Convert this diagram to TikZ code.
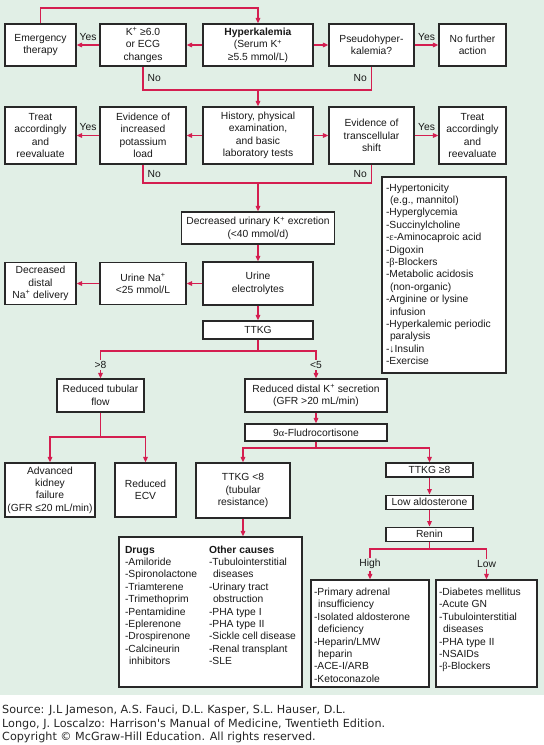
\documentclass[tikz,border=0pt]{standalone}
\usepackage{fontspec}
\setmainfont{Liberation Sans}
\newfontfamily\srcfont{DejaVu Sans}
\newfontfamily\grk{Liberation Serif}
\usetikzlibrary{arrows.meta,positioning}

\definecolor{bggreen}{RGB}{225,239,230}
\definecolor{linered}{RGB}{212,30,80}
\definecolor{boxgray}{RGB}{40,40,40}
\newcommand{\fs}{\fontsize{10.3}{12.4}\selectfont}
\newcommand{\Kp}{K\textsuperscript{+}}
\newcommand{\Nap}{Na\textsuperscript{+}}
% fixed-size box with the list starting at the top
\newcommand{\toplist}[4]{\parbox[c][#1][t]{#2}{\raggedright\rule{0pt}{#3}#4}}

\begin{document}
\begin{tikzpicture}[x=1pt, y=-1pt,
  pbox/.style={draw=boxgray, line width=1.1pt, fill=white, align=center,
               inner sep=1pt, font=\fs, text=black!90},
  lbox/.style={pbox, inner ysep=0pt, inner xsep=3pt},
  arrow/.style={draw=linered, line width=1.4pt, -{Triangle[length=5.5pt,width=4.5pt]}},
  link/.style={draw=linered, line width=1.4pt},
  lab/.style={font=\fs, inner sep=1pt, text=black!90},
  cut/.style={lab, inner sep=1.5pt, fill=bggreen}
]
\fill[bggreen] (0,0) rectangle (544,695);
\useasboundingbox (0,0) rectangle (544,745);

% first row
\node[pbox, minimum width=110pt, minimum height=42pt] (hyper) at (258,45)
  {\textbf{Hyperkalemia}\\(Serum \Kp\\≥5.5 mmol/L)};
\node[pbox, minimum width=86pt, minimum height=42pt] (kcheck) at (143,45)
  {\Kp{} ≥6.0\\or ECG\\changes};
\node[pbox, minimum width=71pt, minimum height=42pt] (emerg) at (40.5,45)
  {Emergency\\therapy};
\node[pbox, minimum width=85pt, minimum height=42pt] (pseudo) at (371.5,45)
  {Pseudohyper-\\kalemia?};
\node[pbox, minimum width=67pt, minimum height=42pt] (nofurther) at (472.5,45)
  {No further\\action};

% second row
\node[pbox, minimum width=110pt, minimum height=57pt] (history) at (258,135.5)
  {History, physical\\examination,\\and basic\\laboratory tests};
\node[pbox, minimum width=86pt, minimum height=57pt] (evload) at (143,135.5)
  {Evidence of\\increased\\potassium\\load};
\node[pbox, minimum width=71pt, minimum height=57pt] (treatl) at (40.5,135.5)
  {Treat\\accordingly\\and\\reevaluate};
\node[pbox, minimum width=85pt, minimum height=57pt] (evshift) at (371.5,135.5)
  {Evidence of\\transcellular\\shift};
\node[pbox, minimum width=67pt, minimum height=57pt] (treatr) at (472.5,135.5)
  {Treat\\accordingly\\and\\reevaluate};

\node[lbox, inner xsep=4pt] (shiftlist) at (444,275)
  {\toplist{196pt}{116pt}{14pt}{-Hypertonicity\\
   \hspace*{4pt}(e.g., mannitol)\\
   -Hyperglycemia\\
   -Succinylcholine\\
   -{\grk ε}-Aminocaproic acid\\
   -Digoxin\\
   -{\grk β}-Blockers\\
   -Metabolic acidosis\\
   \hspace*{4pt}(non-organic)\\
   -Arginine or lysine\\
   \hspace*{4pt}infusion\\
   -Hyperkalemic periodic\\
   \hspace*{4pt}paralysis\\
   -↓Insulin\\
   -Exercise}};

% urinary work-up
\node[pbox, minimum width=153pt, minimum height=32pt] (decr) at (258,228)
  {Decreased urinary \Kp{} excretion\\(<40 mmol/d)};
\node[pbox, minimum width=110pt, minimum height=43pt] (urine) at (258,283.5)
  {Urine\\electrolytes};
\node[pbox, minimum width=86pt, minimum height=42pt] (urinena) at (143,283.5)
  {Urine \Nap\\<25 mmol/L};
\node[pbox, minimum width=71pt, minimum height=42pt] (distal) at (40.5,283.5)
  {Decreased\\distal\\\Nap{} delivery};
\node[pbox, minimum width=110pt, minimum height=18pt] (ttkg) at (258,330) {TTKG};

% TTKG branches
\node[pbox, minimum width=87pt, minimum height=33pt] (tubflow) at (100.5,395.5)
  {Reduced tubular\\flow};
\node[pbox, minimum width=142pt, minimum height=33pt] (redsec) at (316,395.5)
  {Reduced distal \Kp{} secretion\\(GFR >20 mL/min)};
\node[pbox, minimum width=142pt, minimum height=17pt] (fludro) at (316,432.5)
  {9{\grk α}-Fludrocortisone};
\node[pbox, minimum width=90pt, minimum height=54pt] (akf) at (50,490)
  {Advanced\\kidney\\failure\\(GFR ≤20 mL/min)};
\node[pbox, minimum width=61pt, minimum height=54pt] (ecv) at (145.5,490)
  {Reduced\\ECV};
\node[pbox, minimum width=94pt, minimum height=55pt] (ttkglow) at (243,490.5)
  {TTKG <8\\(tubular\\resistance)};
\node[pbox, minimum width=87pt, minimum height=14pt] (ttkghigh) at (429.5,470)
  {TTKG ≥8};
\node[pbox, minimum width=87pt, minimum height=14pt, below=17pt of ttkghigh] (lowaldo)
  {Low aldosterone};
\node[pbox, minimum width=87pt, minimum height=14pt, below=17pt of lowaldo] (renin)
  {Renin};

% cause lists
\node[lbox, inner xsep=6pt] (drugs) at (210.5,612)
  {\toplist{150pt}{171pt}{16pt}{%
   \parbox[t]{84pt}{\raggedright\textbf{Drugs}\\-Amiloride\\-Spironolactone\\
     -Triamterene\\-Trimethoprim\\-Pentamidine\\-Eplerenone\\-Drospirenone\\
     -Calcineurin\\\hspace*{4pt}inhibitors}%
   \parbox[t]{87pt}{\raggedright\textbf{Other causes}\\-Tubulointerstitial\\
     \hspace*{4pt}diseases\\-Urinary tract\\\hspace*{4pt}obstruction\\-PHA type I\\
     -PHA type II\\-Sickle cell disease\\-Renal transplant\\-SLE}}};
\node[lbox] (high) at (370,633.5)
  {\toplist{107pt}{112pt}{15.4pt}{-Primary adrenal\\
   \hspace*{4pt}insufficiency\\
   -Isolated aldosterone\\
   \hspace*{4pt}deficiency\\
   -Heparin/LMW\\
   \hspace*{4pt}heparin\\
   -ACE-I/ARB\\
   -Ketoconazole}};
\node[lbox] (low) at (486.5,633.5)
  {\toplist{107pt}{95pt}{15.4pt}{-Diabetes mellitus\\
   -Acute GN\\
   -Tubulointerstitial\\
   \hspace*{4pt}diseases\\
   -PHA type II\\
   -NSAIDs\\
   -{\grk β}-Blockers}};

\node[anchor=north west, align=left, inner sep=0pt, text=black!85,
      font=\srcfont\fontsize{11.2}{13.5}\selectfont] (source) at (2,705)
  {Source: J.L Jameson, A.S. Fauci, D.L. Kasper, S.L. Hauser, D.L.\\
   Longo, J. Loscalzo: Harrison's Manual of Medicine, Twentieth Edition.\\
   Copyright © McGraw-Hill Education. All rights reserved.};

% rails
\coordinate (toprail) at (0,8);
\coordinate (rail1) at (0,90);
\coordinate (rail2) at (0,183);
\coordinate (rail3) at (0,351);
\coordinate (rail4) at (0,437);
\coordinate (rail5) at (0,448);
\coordinate (rail6) at (0,549);

% connectors
\draw[arrow] (emerg.north) |- (toprail -| hyper.north) -- (hyper.north);
\draw[arrow] (hyper) -- (kcheck);
\draw[arrow] (kcheck) -- node[lab, above=3pt] {Yes} (emerg);
\draw[arrow] (hyper) -- (pseudo);
\draw[arrow] (pseudo) -- node[lab, above=3pt] {Yes} (nofurther);
\draw[arrow] (kcheck.south) -- node[lab, right=3pt] {No} (kcheck.south |- rail1) -| (history.north);
\draw[link] (pseudo.south) -- node[lab, left=3pt] {No} (pseudo.south |- rail1) -- (rail1 -| history.north);

\draw[arrow] (history) -- (evload);
\draw[arrow] (evload) -- node[lab, above=3pt] {Yes} (treatl);
\draw[arrow] (history) -- (evshift);
\draw[arrow] (evshift) -- node[lab, above=3pt] {Yes} (treatr);
\draw[arrow] (evload.south) -- node[lab, right=3pt] {No} (evload.south |- rail2) -| (decr.north);
\draw[link] (evshift.south) -- node[lab, left=3pt] {No} (evshift.south |- rail2) -- (rail2 -| decr.north);

\draw[arrow] (decr) -- (urine);
\draw[arrow] (urine) -- (urinena);
\draw[arrow] (urinena) -- (distal);
\draw[arrow] (urine) -- (ttkg);
\draw[arrow] (ttkg.south) |- (rail3 -| tubflow.north) -- node[cut] {>8} (tubflow.north);
\draw[arrow] (ttkg.south) |- (rail3 -| redsec.north) -- node[cut] {<5} (redsec.north);
\draw[arrow] (tubflow.south) |- (rail4 -| akf.north) -- (akf.north);
\draw[arrow] (tubflow.south) |- (rail4 -| ecv.north) -- (ecv.north);
\draw[arrow] (redsec) -- (fludro);
\draw[arrow] (fludro.south) |- (rail5 -| ttkglow.north) -- (ttkglow.north);
\draw[arrow] (fludro.south) |- (rail5 -| ttkghigh.north) -- (ttkghigh.north);
\draw[arrow] (ttkghigh) -- (lowaldo);
\draw[arrow] (lowaldo) -- (renin);
\draw[arrow] (ttkglow.south) -- (ttkglow.south |- drugs.north);
\draw[arrow] (renin.south) |- (rail6 -| high.north) -- node[cut] {High} (high.north);
\draw[arrow] (renin.south) |- (rail6 -| low.north) -- node[cut] {Low} (low.north);
\end{tikzpicture}
\end{document}
